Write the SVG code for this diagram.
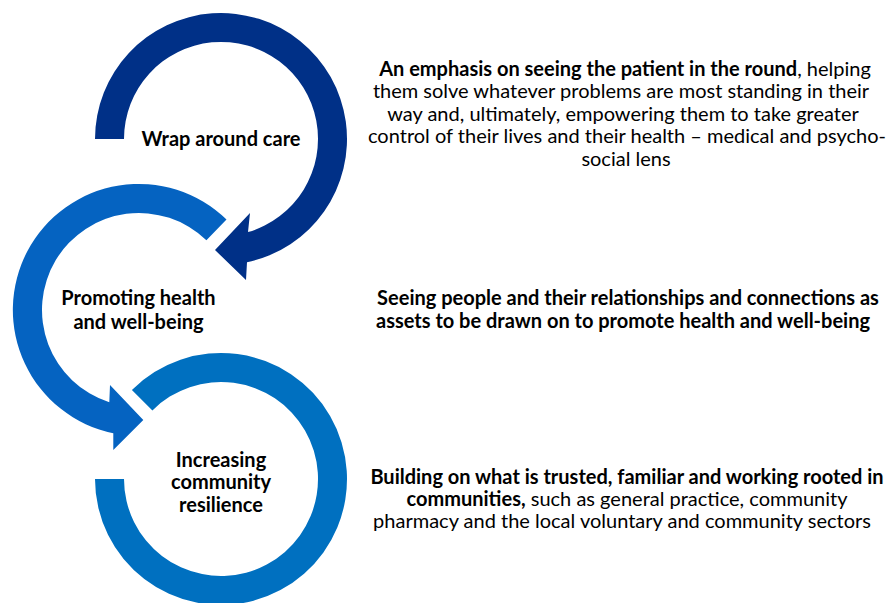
<svg xmlns="http://www.w3.org/2000/svg" width="886" height="603" viewBox="0 0 886 603">
<style>
  text{font-family:Lato,"Liberation Sans",sans-serif;fill:#000;text-anchor:middle}
  .lbl{font-size:20px;font-weight:bold}
  .desc{font-size:20px}
  .b{font-weight:bold}
  .ring1{fill:#003087}
  .ring2{fill:#0563C1}
  .ring3{fill:#0070C0}
</style>
<rect width="886" height="603" fill="#ffffff"/>
<g id="node-resilience">
  <path class="ring3" d="M95,479 A126,126 0 1 0 131.9,389.9 L152.4,410.4 A97,97 0 1 1 124,479 Z"/>
  <text class="lbl" x="221" y="466.5">Increasing</text>
  <text class="lbl" x="221" y="488.5">community</text>
  <text class="lbl" x="221" y="511.5">resilience</text>
</g>
<g id="node-promoting">
  <path class="ring2" d="M226.5,219.4 A126,126 0 1 0 113.3,433.3 L113.3,450 L143.3,420 L110,385 L109.3,402.3 A97,97 0 1 1 206.4,240.2 Z"/>
  <text class="lbl" x="138.5" y="305">Promoting health</text>
  <text class="lbl" x="138.5" y="328.5">and well-being</text>
</g>
<g id="node-wrap">
  <path class="ring1" d="M95,139 A126,126 0 1 1 247,262.3 L246,280 L215,250 L250,213 L248,232.1 A97,97 0 1 0 124,139 Z"/>
  <text class="lbl" x="221" y="146">Wrap around care</text>
</g>
<g id="desc-wrap">
  <text class="desc" x="625" y="75.7"><tspan class="b">An emphasis on seeing the patient in the round</tspan>, helping</text>
  <text class="desc" x="621" y="98.2">them solve whatever problems are most standing in their</text>
  <text class="desc" x="623" y="120.7">way and, ultimately, empowering them to take greater</text>
  <text class="desc" x="627" y="143.2">control of their lives and their health – medical and psycho-</text>
  <text class="desc" x="626" y="165.7">social lens</text>
</g>
<g id="desc-promoting">
  <text class="desc b" x="628" y="305">Seeing people and their relationships and connections as</text>
  <text class="desc b" x="623" y="327.7">assets to be drawn on to promote health and well-being</text>
</g>
<g id="desc-resilience">
  <text class="desc" x="627" y="484"><tspan class="b">Building on what is trusted, familiar and working rooted in</tspan></text>
  <text class="desc" x="627" y="506"><tspan class="b">communities,</tspan> such as general practice, community</text>
  <text class="desc" x="622" y="528.3">pharmacy and the local voluntary and community sectors</text>
</g>
<g id="connectors"></g>
</svg>
